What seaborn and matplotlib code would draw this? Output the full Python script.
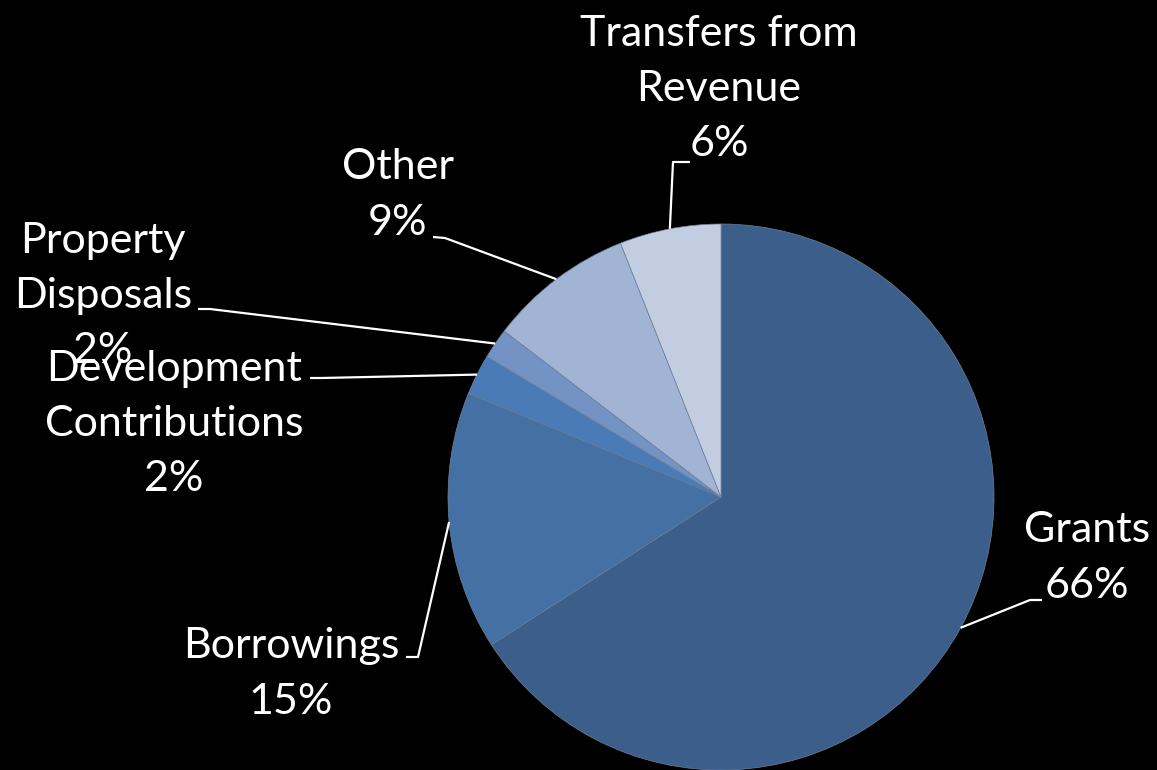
import matplotlib
matplotlib.use("Agg")
import matplotlib.pyplot as plt
import seaborn as sns
import numpy as np

categories = ["Grants", "Borrowings", "Development\nContributions", "Property\nDisposals",
              "Other", "Transfers from\nRevenue"]
values = [65.9, 15.3, 2.4, 1.8, 8.6, 6.0]
colors = ["#3B5E8A", "#4470A4", "#4A7BB6", "#7393C4", "#A2B4D4", "#C2CDE2"]

W, H = 1157, 770
sns.set_style("dark", {"axes.facecolor": "black", "figure.facecolor": "black"})
plt.rcParams["font.family"] = ["Lato", "DejaVu Sans"]

fig = plt.figure(figsize=(W / 100, H / 100), dpi=100, facecolor="black")
ax = fig.add_axes([0, 0, 1, 1])
ax.set_facecolor("black")

cx, cy, r = 721, H - 497, 273
wedges, _ = ax.pie(values, colors=colors, startangle=90, counterclock=False,
                   center=(cx, cy), radius=r,
                   wedgeprops=dict(edgecolor="#6F819A", linewidth=0.5))
ax.set_xlim(0, W)
ax.set_ylim(0, H)
ax.axis("off")

# label block centers and leader knee points in pixel coords (x, y from top)
label_pos = [(1087, 558), (291, 674), (174, 424), (103, 296), (398, 195), (719, 89)]
knees = [
    [(1042, 600), (1030, 600)],
    [(406, 657), (418, 657)],
    [(310, 378), (322, 378)],
    [(198, 309), (210, 309)],
    [(433, 237), (445, 238)],
    [(690, 162), (673, 162)],
]

for w, cat, v, (lx, ly), kn in zip(wedges, categories, values, label_pos, knees):
    mid = np.deg2rad((w.theta1 + w.theta2) / 2)
    px, py = cx + r * np.cos(mid), cy + r * np.sin(mid)
    xs = [k[0] for k in kn] + [px]
    ys = [H - k[1] for k in kn] + [py]
    ax.plot(xs, ys, color="white", lw=1.6, solid_capstyle="butt")
    ax.text(lx, H - ly, f"{cat}\n{v:.0f}%", color="white", fontsize=31,
            ha="center", va="center", multialignment="center", linespacing=1.55)

fig.savefig("out.png", dpi=100, facecolor="black")
